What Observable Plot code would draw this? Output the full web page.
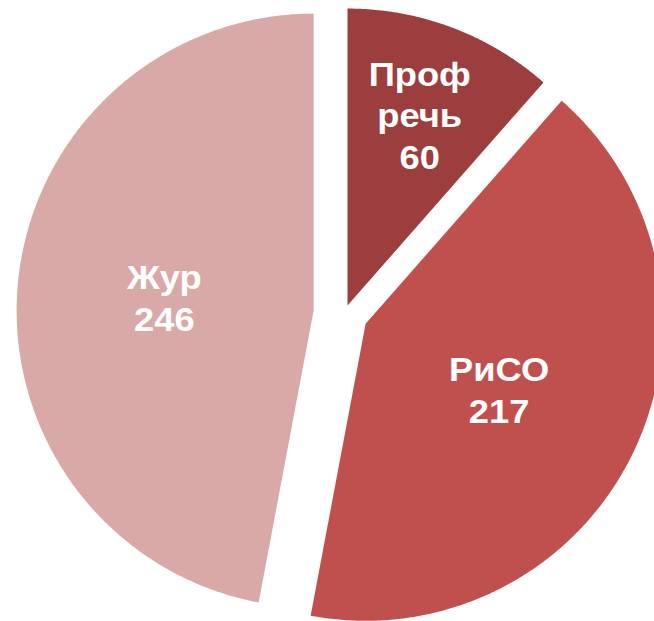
<!DOCTYPE html>
<html>
<head>
<meta charset="utf-8">
<script src="https://cdn.jsdelivr.net/npm/d3@7"></script>
<script src="https://cdn.jsdelivr.net/npm/@observablehq/plot@0.6"></script>
<style>
  html, body { margin: 0; padding: 0; background: #fff; overflow: hidden; }
</style>
</head>
<body>
<div id="chart"></div>
<script>
// Data
const categories = ["Проф\nречь", "РиСО", "Жур"];
const values = [60, 217, 246];

// Styles / layout
const colors = ["#9c3e3e", "#c0504d", "#d9a9a8"];
const explode = [8.5, 23.5, 31];       // px offset of each slice
const labelFrac = [0.69, 0.5, 0.505];  // label distance as fraction of radius
const W = 654, H = 621;
const cx = 344, cy = 313, R = 297;
const textStretch = 1.1;

const arcs = d3.pie().sort(null).startAngle(0).endAngle(2 * Math.PI)(values);

const slices = [];
const labels = [];
arcs.forEach((a, i) => {
  const mid = (a.startAngle + a.endAngle) / 2;
  const ox = cx + explode[i] * Math.sin(mid);
  const oy = cy - explode[i] * Math.cos(mid);
  const pts = [{x: ox, y: oy}];
  const n = Math.max(2, Math.ceil((a.endAngle - a.startAngle) / (Math.PI / 360)));
  for (let k = 0; k <= n; k++) {
    const t = a.startAngle + (a.endAngle - a.startAngle) * k / n;
    pts.push({x: ox + R * Math.sin(t), y: oy - R * Math.cos(t)});
  }
  slices.push({pts, color: colors[i]});
  const lr = R * labelFrac[i];
  labels.push({x: ox + lr * Math.sin(mid), y: oy - lr * Math.cos(mid), text: categories[i] + "\n" + values[i]});
});

const chart = Plot.plot({
  width: W,
  height: H,
  margin: 0,
  x: {domain: [0, W], range: [0, W], axis: null},
  y: {domain: [0, H], range: [0, H], axis: null},
  style: {background: "#fff", fontFamily: "Arial, 'Liberation Sans', sans-serif"},
  marks: [
    ...slices.map(s => Plot.line(s.pts, {x: "x", y: "y", fill: s.color, stroke: "none", curve: "linear-closed", clip: true})),
    Plot.text(labels, {
      x: "x", y: "y", text: "text",
      fill: "white", fontSize: 33, fontWeight: "bold",
      lineHeight: 1.26, lineAnchor: "middle", textAnchor: "middle",
      className: "pie-label"
    })
  ]
});
document.getElementById("chart").append(chart);

// slight horizontal stretch of labels around their anchor
chart.querySelectorAll("g.pie-label text, .pie-label text").forEach(t => {
  const tr = t.getAttribute("transform") || "";
  const xa = t.getAttribute("x");
  if (xa !== null && !tr) {
    const x = +xa;
    t.setAttribute("transform", `translate(${x},0) scale(${textStretch},1) translate(${-x},0)`);
  } else {
    t.setAttribute("transform", `${tr} scale(${textStretch},1)`);
  }
});
</script>
</body>
</html>
